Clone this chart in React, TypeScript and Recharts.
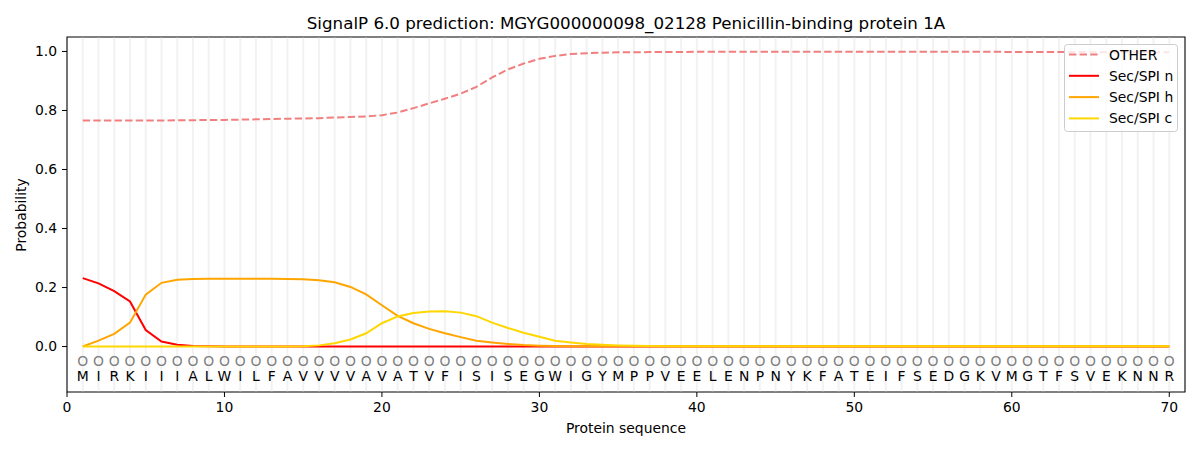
import React from 'react';
import { LineChart, Line, XAxis, YAxis, ReferenceLine, ReferenceArea, Legend } from 'recharts';

const sequence = 'MIRKIIIALWILFAVVVVAVATVFISISEGWIGYMPPVEELENPNYKFATEIFSEDGKVMGTFSVEKNNR'.split('');
const positions = sequence.map((_, i) => i + 1);

const otherProb = [
  0.766, 0.766, 0.766, 0.766, 0.766, 0.766, 0.767, 0.767, 0.768, 0.768,
  0.769, 0.770, 0.771, 0.772, 0.773, 0.774, 0.776, 0.778, 0.780, 0.784,
  0.793, 0.808, 0.824, 0.840, 0.857, 0.880, 0.912, 0.939, 0.959, 0.975,
  0.985, 0.991, 0.994, 0.996, 0.997, 0.997, 0.998, 0.998, 0.998, 0.999,
  0.999, 0.999, 0.999, 0.999, 0.999, 0.999, 0.999, 0.999, 0.999, 0.999,
  0.999, 0.999, 0.999, 0.999, 0.999, 0.999, 0.999, 0.999, 0.999, 0.998,
  0.998, 0.998, 0.998, 0.998, 0.998, 0.997, 0.997, 0.997, 0.997, 0.997,
];

const secN = [
  0.232, 0.214, 0.188, 0.153, 0.056, 0.017, 0.006, 0.002, 0.001, 0.000,
  0.000, 0.000, 0.000, 0.000, 0.000, 0.000, 0.000, 0.000, 0.000, 0.000,
  0.000, 0.000, 0.000, 0.000, 0.000, 0.000, 0.000, 0.000, 0.000, 0.000,
  0.000, 0.000, 0.000, 0.000, 0.000, 0.000, 0.000, 0.000, 0.000, 0.000,
  0.000, 0.000, 0.000, 0.000, 0.000, 0.000, 0.000, 0.000, 0.000, 0.000,
  0.000, 0.000, 0.000, 0.000, 0.000, 0.000, 0.000, 0.000, 0.000, 0.000,
  0.000, 0.000, 0.000, 0.000, 0.000, 0.000, 0.000, 0.000, 0.000, 0.000,
];

const secH = [
  0.000, 0.020, 0.043, 0.081, 0.176, 0.216, 0.226, 0.229, 0.230, 0.230,
  0.230, 0.230, 0.230, 0.229, 0.228, 0.225, 0.218, 0.202, 0.177, 0.140,
  0.104, 0.079, 0.060, 0.045, 0.032, 0.020, 0.014, 0.009, 0.005, 0.003,
  0.002, 0.001, 0.001, 0.001, 0.001, 0.001, 0.001, 0.001, 0.001, 0.001,
  0.001, 0.001, 0.001, 0.001, 0.001, 0.001, 0.001, 0.001, 0.001, 0.001,
  0.001, 0.001, 0.001, 0.001, 0.001, 0.001, 0.001, 0.001, 0.001, 0.001,
  0.001, 0.001, 0.001, 0.001, 0.001, 0.001, 0.001, 0.001, 0.001, 0.001,
];

const secC = [
  0.000, 0.000, 0.000, 0.000, 0.000, 0.000, 0.000, 0.000, 0.000, 0.000,
  0.000, 0.000, 0.000, 0.000, 0.001, 0.004, 0.011, 0.024, 0.045, 0.079,
  0.102, 0.114, 0.119, 0.120, 0.115, 0.103, 0.081, 0.063, 0.047, 0.033,
  0.020, 0.014, 0.009, 0.006, 0.004, 0.003, 0.002, 0.001, 0.001, 0.001,
  0.001, 0.001, 0.001, 0.001, 0.001, 0.001, 0.001, 0.001, 0.001, 0.001,
  0.001, 0.001, 0.001, 0.001, 0.001, 0.001, 0.001, 0.001, 0.001, 0.001,
  0.001, 0.001, 0.001, 0.001, 0.001, 0.001, 0.001, 0.001, 0.001, 0.001,
];

const xTicks = [0, 10, 20, 30, 40, 50, 60, 70];
const yTicks = [0, 0.2, 0.4, 0.6, 0.8, 1.0];
const xDomain: [number, number] = [0, 71];
const yDomain: [number, number] = [-0.154, 1.049];
const circleLevel = -0.05;
const letterLevel = -0.1;

const titleText = 'SignalP 6.0 prediction: MGYG000000098_02128 Penicillin-binding protein 1A';
const xLabel = 'Protein sequence';
const yLabel = 'Probability';

const legendItems = [
  { label: 'OTHER', color: '#f08080', dash: '7.4 3.2' },
  { label: 'Sec/SPI n', color: '#ff0000', dash: undefined },
  { label: 'Sec/SPI h', color: '#ffa500', dash: undefined },
  { label: 'Sec/SPI c', color: '#ffd700', dash: undefined },
];

const data = positions.map((p, i) => ({
  pos: p,
  other: otherProb[i],
  n: secN[i],
  h: secH[i],
  c: secC[i],
  circ: circleLevel,
  letter: letterLevel,
  aa: sequence[i],
}));

const FONT = "'DejaVu Sans', sans-serif";
const TICK_FS = 13.9;

const LegendBox = () => (
  <svg width={115} height={89} style={{ display: 'block' }}>
    <rect x={0.5} y={0.5} width={113} height={87} rx={3} fill="#ffffff" fillOpacity={0.8} stroke="#cccccc" />
    {legendItems.map((it, i) => {
      const y = 10.5 + i * 21.3;
      return (
        <g key={it.label}>
          <line x1={5} x2={35} y1={y} y2={y} stroke={it.color} strokeWidth={2} strokeDasharray={it.dash} />
          <text x={45} y={y} dy="0.36em" fontSize={TICK_FS} fontFamily={FONT} fill="#000">{it.label}</text>
        </g>
      );
    })}
  </svg>
);

export default function App() {
  return (
    <div style={{ position: 'absolute', left: 0, top: 0, width: 1200, height: 450, background: '#fff' }}>
      <LineChart
        width={1200}
        height={450}
        data={data}
        margin={{ top: 37, right: 15, bottom: 0, left: 0 }}
        style={{ fontFamily: FONT }}
      >
        <XAxis
          dataKey="pos"
          type="number"
          domain={xDomain}
          ticks={xTicks}
          interval={0}
          allowDataOverflow
          height={58}
          axisLine={false}
          tickLine={{ stroke: '#000' }}
          tickSize={5}
          tickMargin={5}
          tick={{ fill: '#000', fontSize: TICK_FS, fontFamily: FONT }}
        />
        <YAxis
          type="number"
          domain={yDomain}
          ticks={yTicks}
          interval={0}
          allowDataOverflow
          width={67}
          axisLine={false}
          tickLine={{ stroke: '#000' }}
          tickSize={5}
          tickMargin={5}
          tickFormatter={(v: number) => v.toFixed(1)}
          tick={{ fill: '#000', fontSize: TICK_FS, fontFamily: FONT }}
        />
        {positions.map((p) => (
          <ReferenceLine key={`g${p}`} x={p} stroke="#d3d3d3" strokeOpacity={0.3} strokeWidth={2} />
        ))}
        <Line
          dataKey="circ"
          stroke="none"
          isAnimationActive={false}
          legendType="none"
          activeDot={false}
          dot={(p: any) => (
            <text key={`o${p.index}`} x={p.cx} y={p.cy} dy="0.36em" textAnchor="middle" fontSize={TICK_FS} fontFamily={FONT} fill="#808080">
              O
            </text>
          )}
        />
        <Line
          dataKey="letter"
          stroke="none"
          isAnimationActive={false}
          legendType="none"
          activeDot={false}
          dot={(p: any) => (
            <text key={`a${p.index}`} x={p.cx} y={p.cy} dy="0.36em" textAnchor="middle" fontSize={TICK_FS} fontFamily={FONT} fill="#000">
              {p.payload.aa}
            </text>
          )}
        />
        <Line dataKey="other" type="linear" stroke="#f08080" strokeWidth={2} strokeDasharray="7.4 3.2" dot={false} activeDot={false} isAnimationActive={false} />
        <Line dataKey="n" type="linear" stroke="#ff0000" strokeWidth={2} dot={false} activeDot={false} isAnimationActive={false} />
        <Line dataKey="h" type="linear" stroke="#ffa500" strokeWidth={2} dot={false} activeDot={false} isAnimationActive={false} />
        <Line dataKey="c" type="linear" stroke="#ffd700" strokeWidth={2} dot={false} activeDot={false} isAnimationActive={false} />
        <ReferenceArea
          x1={xDomain[0]}
          x2={xDomain[1]}
          y1={yDomain[0]}
          y2={yDomain[1]}
          fill="none"
          fillOpacity={0}
          stroke="#000"
          strokeWidth={1.1}
          ifOverflow="visible"
        />
        <Legend
          layout="horizontal"
          verticalAlign="middle"
          align="center"
          content={() => <LegendBox />}
          wrapperStyle={{ position: 'absolute', left: 1064, top: 44, width: 115, height: 89 }}
        />
      </LineChart>
      <svg width={1200} height={450} style={{ position: 'absolute', left: 0, top: 0, pointerEvents: 'none' }}>
        <text x={626} y={29} textAnchor="middle" fontSize={16.7} fontFamily={FONT} fill="#000">{titleText}</text>
        <text x={626} y={433} textAnchor="middle" fontSize={TICK_FS} fontFamily={FONT} fill="#000">{xLabel}</text>
        <text x={26} y={215} textAnchor="middle" fontSize={TICK_FS} fontFamily={FONT} fill="#000" transform="rotate(-90 26 215)">{yLabel}</text>
      </svg>
    </div>
  );
}
